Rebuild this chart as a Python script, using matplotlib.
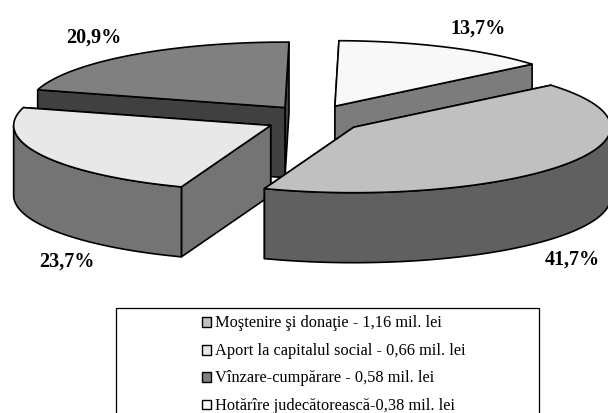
import numpy as np
import matplotlib
matplotlib.use('Agg')
import matplotlib.pyplot as plt
from matplotlib.patches import Polygon, Rectangle

plt.rcParams['font.family'] = ['Liberation Serif', 'DejaVu Sans']

names = ['Moştenire şi donaţie - 1,16 mil. lei',
         'Aport la capitalul social - 0,66 mil. lei',
         'Vînzare-cumpărare - 0,58 mil. lei',
         'Hotărîre judecătorească-0,38 mil. lei']
values = [1.16, 0.66, 0.58, 0.38]
top_colors = ['#c0c0c0', '#e8e8e8', '#808080', '#f8f8f8']
wall_colors = ['#606060', '#747474', '#404040', '#7c7c7c']
# clockwise order of the slices, starting near 12 o'clock
slice_order = [3, 0, 1, 2]
# back slices first
draw_order = [2, 3, 1, 0]
label_pos = [(572, 260), (67, 262), (94, 38), (478, 29)]
legend_y = [323, 351, 378, 406]

start_angle = 0.9
cx, cy = 314, 120
rx, ry = 257, 65.5
ex, ey = 48.6, 14.2
depth = 70

fig = plt.figure(figsize=(6.08, 4.14), dpi=100)
ax = fig.add_axes([0, 0, 1, 1])
ax.set_xlim(0, 608)
ax.set_ylim(414, 0)
ax.axis('off')

total = sum(values)
shares = np.array(values) / total
bounds = {}
a = start_angle
for i in slice_order:
    bounds[i] = (a, a + shares[i] * 360)
    a = bounds[i][1]


def face(points, color, z):
    ax.add_patch(Polygon(points, closed=True, facecolor=color, edgecolor='black',
                         linewidth=1.2, joinstyle='round', zorder=z))


z = 1
for i in draw_order:
    a0, a1 = bounds[i]
    mid = np.radians((a0 + a1) / 2)
    ox = cx + ex * np.sin(mid)
    oy = cy - ey * np.cos(mid)
    t = np.radians(np.linspace(a0, a1, 120))
    xs = ox + rx * np.sin(t)
    ys = oy - ry * np.cos(t)
    # the two cut faces, the one lower on screen goes last
    ends = (0, -1) if ys[0] < ys[-1] else (-1, 0)
    for k in ends:
        face([(ox, oy), (xs[k], ys[k]), (xs[k], ys[k] + depth), (ox, oy + depth)], wall_colors[i], z)
    # outer wall, only the part turned to the viewer
    front = (np.degrees(t) >= 90) & (np.degrees(t) <= 270)
    if front.any():
        wx, wy = xs[front], ys[front]
        face(list(zip(wx, wy)) + list(zip(wx[::-1], wy[::-1] + depth)), wall_colors[i], z + 1)
    # top
    face([(ox, oy)] + list(zip(xs, ys)), top_colors[i], z + 2)
    z += 3

for i in range(4):
    pct = f'{shares[i] * 100:.1f}%'.replace('.', ',')
    ax.text(label_pos[i][0], label_pos[i][1], pct, fontsize=14.5, fontweight='bold',
            ha='center', va='center', zorder=50)

# legend box runs off the bottom of the picture
ax.add_patch(Rectangle((116, 309), 423, 110, facecolor='white', edgecolor='black',
                       linewidth=0.9, zorder=40))
for i in range(4):
    ax.add_patch(Rectangle((201.5, legend_y[i] - 5), 9.5, 9.5, facecolor=top_colors[i],
                           edgecolor='black', linewidth=1.0, zorder=41))
    ax.text(215, legend_y[i], names[i], fontsize=11.8, ha='left', va='center', zorder=41)

fig.savefig('out.png', dpi=100)
